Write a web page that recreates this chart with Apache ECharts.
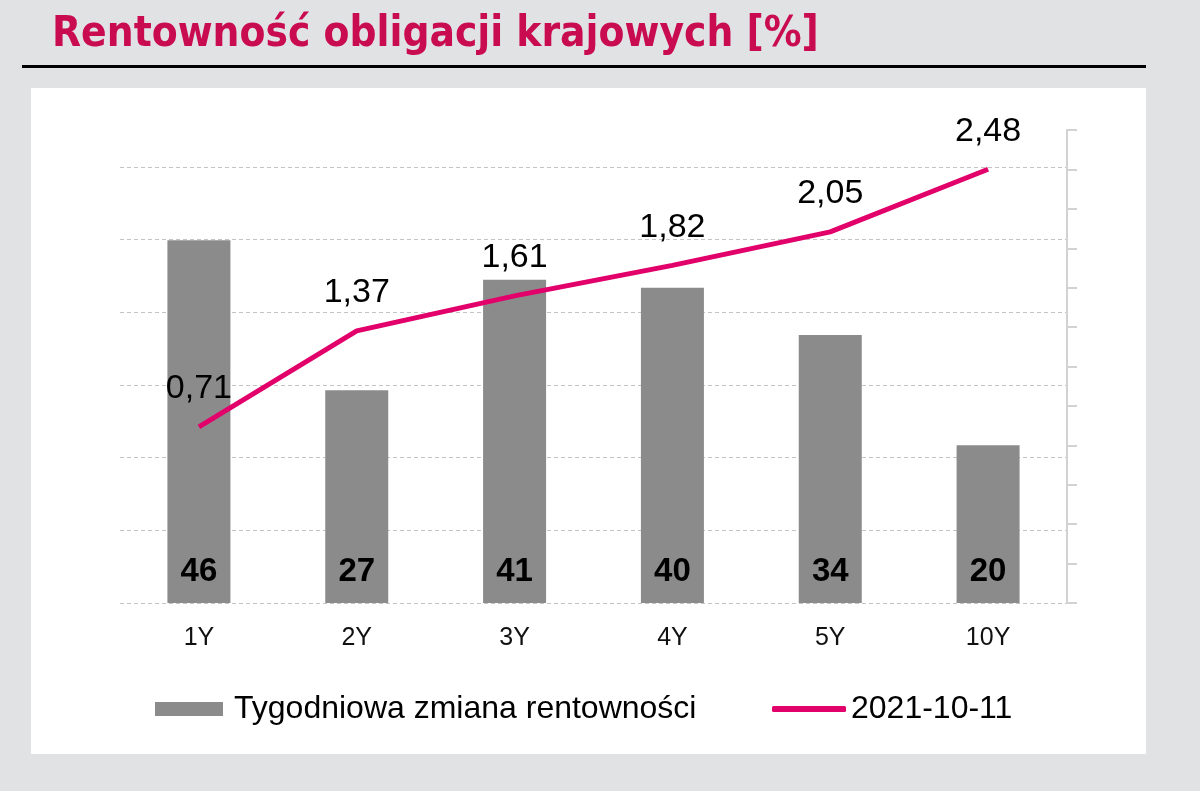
<!DOCTYPE html>
<html lang="pl">
<head>
  <meta charset="utf-8">
  <title>Rentowność obligacji krajowych</title>
  <script src="https://cdn.jsdelivr.net/npm/echarts@6/dist/echarts.min.js"></script>
  <style>
    html, body { margin: 0; padding: 0; background: #e1e2e4; }
    #chart { width: 1200px; height: 791px; }
  </style>
</head>
<body>
  <div id="chart"></div>
  <script>
    // dane
    var tenors = ['1Y', '2Y', '3Y', '4Y', '5Y', '10Y'];
    var weeklyChange = [46, 27, 41, 40, 34, 20];   // pb
    var yields = [0.71, 1.37, 1.61, 1.82, 2.05, 2.48]; // %
    var barName = 'Tygodniowa zmiana rentowności';
    var lineName = '2021-10-11';

    var chart = echarts.init(document.getElementById('chart'));
    var font = 'Liberation Sans, Arial, sans-serif';

    var option = {
      backgroundColor: '#e1e2e4',
      animation: false,
      graphic: [
        { type: 'rect', z: -10, shape: { x: 31, y: 88, width: 1115, height: 666 }, style: { fill: '#ffffff' } },
        { type: 'line', shape: { x1: 22, y1: 66.5, x2: 1146, y2: 66.5 }, style: { stroke: '#000', lineWidth: 3 } },
        {
          type: 'text', left: 52, top: 14,
          style: {
            text: 'Rentowność obligacji krajowych [%]',
            fill: '#c90c4f',
            font: 'bold 42px "DejaVu Sans Condensed", "DejaVu Sans", sans-serif'
          }
        }
      ],
      grid: { left: 120, right: 133, top: 130, bottom: 188 },
      legend: [
        {
          data: [{ name: barName, icon: 'rect' }], left: 150, top: 688,
          itemWidth: 68, itemHeight: 14,
          textStyle: { fontSize: 32, color: '#000', fontFamily: font, padding: [0, 0, 0, 6] }
        },
        {
          data: [{ name: lineName, icon: 'roundRect' }], left: 767, top: 688,
          itemWidth: 74, itemHeight: 6,
          textStyle: { fontSize: 32, color: '#000', fontFamily: font }
        }
      ],
      xAxis: {
        type: 'category',
        data: tenors,
        axisLine: { show: false },
        axisTick: { show: false },
        axisLabel: { fontSize: 25, color: '#111', fontFamily: font, margin: 23 }
      },
      yAxis: [
        // słupki
        { type: 'value', min: 0, max: 60, show: false },
        // linie siatki
        {
          type: 'value', position: 'left', min: 0, max: 6.51, interval: 1,
          axisLine: { show: false }, axisTick: { show: false }, axisLabel: { show: false },
          splitLine: { show: true, showMaxLine: false, lineStyle: { color: '#c4c4c4', type: [4, 3], width: 1 } }
        },
        // prawa oś z podziałką
        {
          type: 'value', position: 'right', min: 0, max: 12, interval: 1,
          axisLine: { show: true, lineStyle: { color: '#d2d2d2', width: 2 } },
          axisTick: { show: true, length: 10, lineStyle: { color: '#d2d2d2', width: 2 } },
          axisLabel: { show: false },
          splitLine: { show: false }
        },
        // rentowność
        { type: 'value', min: -0.5, max: 2.75, show: false }
      ],
      series: [
        {
          name: barName,
          type: 'bar',
          yAxisIndex: 0,
          data: weeklyChange,
          barWidth: 63,
          itemStyle: { color: '#8b8b8b' },
          label: {
            show: true, position: 'insideBottom', distance: 15,
            fontSize: 33, fontWeight: 'bold', color: '#000', fontFamily: font
          }
        },
        {
          name: lineName,
          type: 'line',
          yAxisIndex: 3,
          data: yields,
          symbol: 'circle',
          symbolSize: 0.1,
          showSymbol: true,
          lineStyle: { color: '#e2006b', width: 5 },
          itemStyle: { color: '#e2006b' },
          label: {
            show: true, position: 'top', distance: 21,
            fontSize: 34, color: '#000', fontFamily: font,
            formatter: function (p) { return p.value.toFixed(2).replace('.', ','); }
          }
        }
      ]
    };

    chart.setOption(option);
  </script>
</body>
</html>
